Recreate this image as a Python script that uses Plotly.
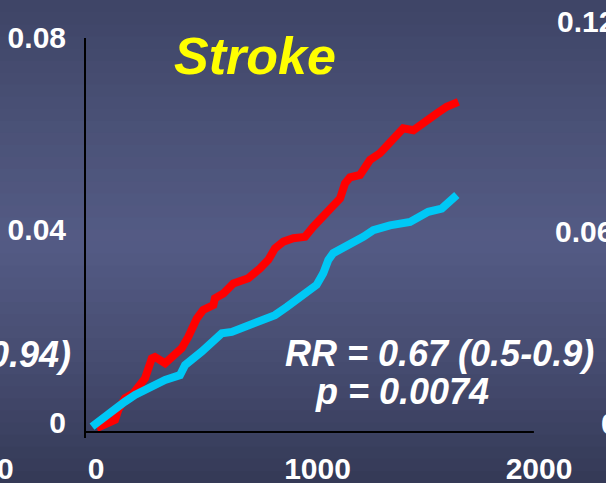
import plotly.graph_objects as go

# Cumulative stroke incidence by follow-up day
days_placebo = [21, 104, 119, 149, 186, 239, 270, 284, 330, 375, 405, 435, 473, 502,
                548, 555, 593, 638, 706, 758, 796, 826, 864, 909, 962, 999, 1060,
                1120, 1142, 1165, 1210, 1255, 1300, 1338, 1391, 1405, 1451, 1496,
                1556, 1601, 1654]
risk_placebo = [0.0000, 0.0017, 0.0038, 0.0062, 0.0072, 0.0103, 0.0145, 0.0148,
                0.0135, 0.0156, 0.0166, 0.0190, 0.0228, 0.0246, 0.0256, 0.0270,
                0.0280, 0.0301, 0.0312, 0.0332, 0.0350, 0.0374, 0.0388, 0.0395,
                0.0398, 0.0419, 0.0450, 0.0478, 0.0509, 0.0522, 0.0527, 0.0558,
                0.0572, 0.0589, 0.0613, 0.0624, 0.0620, 0.0637, 0.0655, 0.0669,
                0.0679]

days_active = [0, 119, 149, 194, 270, 330, 397, 420, 495, 540, 586, 631, 698, 758,
               826, 879, 954, 1014, 1044, 1067, 1089, 1165, 1225, 1270, 1345, 1436,
               1481, 1518, 1579, 1609, 1647]
risk_active = [0.0003, 0.0048, 0.0055, 0.0069, 0.0086, 0.0100, 0.0110, 0.0131,
               0.0159, 0.0180, 0.0197, 0.0200, 0.0211, 0.0225, 0.0235, 0.0252,
               0.0277, 0.0298, 0.0322, 0.0350, 0.0364, 0.0381, 0.0398, 0.0412,
               0.0422, 0.0429, 0.0443, 0.0450, 0.0457, 0.0468, 0.0485]

x_ticks = [0, 1000, 2000]
x_tick_text = ["0", "1000", "2000"]
y_ticks = [0, 0.04, 0.08]
y_tick_text = ["0", "0.04", "0.08"]

title_text = "Stroke"
rr_text = "RR = 0.67 (0.5-0.9)"
p_text = "p = 0.0074"

# Canvas and plot-area geometry (pixels)
W, H = 606, 483
L, R, T, B = 86, 545, 38, 438
X_RANGE = [-27.1, 2045.1]
Y_RANGE = [-0.00208, 0.0812]
X_AXIS_END = 1995
X_AXIS_Y = -0.00083

FONT = "Liberation Sans, Arial, sans-serif"


def fx(xp):
    return (xp - L) / (R - L)


def fy(yp):
    return (B - yp) / (B - T)


fig = go.Figure()
fig.add_trace(go.Scatter(x=days_placebo, y=risk_placebo, mode="lines",
                         line=dict(color="#ff0000", width=8),
                         name="Placebo", showlegend=False, hoverinfo="skip"))
fig.add_trace(go.Scatter(x=days_active, y=risk_active, mode="lines",
                         line=dict(color="#00c8f5", width=8),
                         name="Active", showlegend=False, hoverinfo="skip"))

# Slate-blue slide background as soft horizontal bands
stops = [(0.0, (62, 68, 102)), (0.25, (74, 81, 118)), (0.5, (84, 91, 133)),
         (0.75, (70, 76, 112)), (1.0, (52, 57, 86))]


def lerp_color(t):
    for (t0, c0), (t1, c1) in zip(stops[:-1], stops[1:]):
        if t0 <= t <= t1:
            k = (t - t0) / (t1 - t0)
            return "rgb(%d,%d,%d)" % tuple(round(a + (b - a) * k) for a, b in zip(c0, c1))
    return "rgb(%d,%d,%d)" % stops[-1][1]


shapes = []
n_bands = 40
for i in range(n_bands):
    y_top = i * H / n_bands
    y_bot = (i + 1) * H / n_bands + 1
    shapes.append(dict(type="rect", xref="paper", yref="paper",
                       x0=fx(0), x1=fx(W), y0=fy(y_bot), y1=fy(y_top),
                       fillcolor=lerp_color((i + 0.5) / n_bands),
                       line=dict(width=0), layer="below"))

# Horizontal axis line
shapes.append(dict(type="line", xref="x", yref="y", x0=X_RANGE[0], x1=X_AXIS_END,
                   y0=X_AXIS_Y, y1=X_AXIS_Y, line=dict(color="black", width=2)))

white_bold = dict(family=FONT, size=30, color="white", weight="bold")
white_bi = dict(family=FONT, size=36, color="white", weight="bold", style="italic")

annotations = [
    dict(text=title_text, x=fx(255), y=fy(56), xanchor="center", yanchor="middle",
         font=dict(family=FONT, size=52, color="#ffff00", weight="bold", style="italic")),
    dict(text=rr_text, x=fx(596), y=fy(353), xanchor="right", yanchor="middle", font=white_bi),
    dict(text=p_text, x=fx(402), y=fy(391), xanchor="center", yanchor="middle", font=white_bi),
    # neighbouring panels at the slide edges
    dict(text="0.94)", x=fx(73), y=fy(354), xanchor="right", yanchor="middle", font=white_bi),
    dict(text="0", x=fx(16), y=fy(469), xanchor="right", yanchor="middle", font=white_bold),
    dict(text="0.12", x=fx(555), y=fy(22), xanchor="left", yanchor="middle", font=white_bold),
    dict(text="0.06", x=fx(553), y=fy(231), xanchor="left", yanchor="middle", font=white_bold),
    dict(text="0", x=fx(599), y=fy(423), xanchor="left", yanchor="middle", font=white_bold),
]
for a in annotations:
    a.update(xref="paper", yref="paper", showarrow=False)

fig.update_layout(
    width=W, height=H,
    margin=dict(l=L, r=W - R, t=T, b=H - B, pad=0, autoexpand=False),
    paper_bgcolor="#4a5178", plot_bgcolor="rgba(0,0,0,0)",
    shapes=shapes, annotations=annotations, showlegend=False,
    xaxis=dict(range=X_RANGE, tickvals=x_ticks, ticktext=x_tick_text,
               showgrid=False, zeroline=False, showline=False, ticks="",
               tickfont=white_bold, ticklabelshift=4, ticklabelstandoff=10,
               automargin=False),
    yaxis=dict(range=Y_RANGE, tickvals=y_ticks, ticktext=y_tick_text,
               showgrid=False, zeroline=False, showline=True, linecolor="black",
               linewidth=2, ticks="", tickfont=white_bold, ticklabelshift=-6,
               ticklabelstandoff=12, automargin=False),
)

fig.write_html("out.html")
